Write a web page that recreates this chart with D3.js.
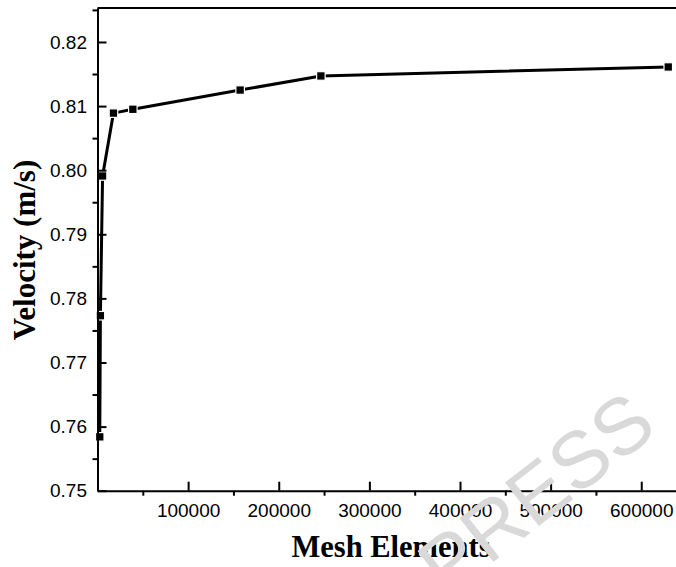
<!DOCTYPE html>
<html>
<head>
<meta charset="utf-8">
<script src="https://cdn.jsdelivr.net/npm/d3@7/dist/d3.min.js"></script>
<style>
  html, body { margin: 0; padding: 0; background: #fff; }
  svg { display: block; }
</style>
</head>
<body>
<svg id="chart" width="676" height="567"></svg>
<script>
// Mesh independence study: velocity vs number of mesh elements
const meshElements = [2500, 3200, 5600, 17600, 39000, 157400, 246500, 629800];
const velocity     = [0.7584, 0.7773, 0.7991, 0.8089, 0.8095, 0.8125, 0.8147, 0.8161];

const xMajorTicks = [0, 100000, 200000, 300000, 400000, 500000, 600000];
const xMinorTicks = [50000, 150000, 250000, 350000, 450000, 550000, 650000];
const yMajorTicks = [0.75, 0.76, 0.77, 0.78, 0.79, 0.80, 0.81, 0.82];
const yMinorTicks = [0.755, 0.765, 0.775, 0.785, 0.795, 0.805, 0.815, 0.825];

const xDomain = [0, 640000];
const yDomain = [0.75, 0.8253];

const svg = d3.select("#chart");
const plot = { left: 97.5, bottom: 490.7, top: 8, right: 677.5 };

const x = d3.scaleLinear().domain(xDomain).range([plot.left, plot.right]);
const y = d3.scaleLinear().domain(yDomain).range([plot.bottom, plot.top]);

const tickFont = "Arial, 'Liberation Sans', sans-serif";
const titleFont = "'Times New Roman', 'Liberation Serif', serif";

const points = meshElements.map((m, i) => [m, velocity[i]]);

// data line
svg.append("path")
  .datum(points)
  .attr("fill", "none")
  .attr("stroke", "#000")
  .attr("stroke-width", 3)
  .attr("stroke-linejoin", "round")
  .attr("d", d3.line().x(d => x(d[0])).y(d => y(d[1])));

// square markers
const ms = 8.5;
svg.append("g").selectAll("rect")
  .data(points)
  .join("rect")
  .attr("x", d => x(d[0]) - ms / 2)
  .attr("y", d => y(d[1]) - ms / 2)
  .attr("width", ms)
  .attr("height", ms)
  .attr("fill", "#000")
  .attr("stroke", "#fff")
  .attr("stroke-width", 1.2);

// top frame line
svg.append("line")
  .attr("x1", plot.left).attr("x2", 676)
  .attr("y1", plot.top).attr("y2", plot.top)
  .attr("stroke", "#000").attr("stroke-width", 2);

function styleAxis(g) {
  g.select(".domain").attr("stroke-width", 2);
  g.selectAll(".tick line").attr("stroke-width", 2);
}

// x axis: major ticks inward with labels, minor ticks outward
const xMajor = svg.append("g")
  .attr("transform", `translate(0,${plot.bottom})`)
  .call(d3.axisBottom(x).tickValues(xMajorTicks).tickSize(-9).tickSizeOuter(0)
    .tickFormat(d => d === 0 ? "" : d3.format("d")(d)));
styleAxis(xMajor);
xMajor.selectAll("text")
  .attr("font-family", tickFont).attr("font-size", 19).attr("fill", "#000")
  .attr("y", 12.5).attr("dy", "0.71em");

const xMinor = svg.append("g")
  .attr("transform", `translate(0,${plot.bottom})`)
  .call(d3.axisBottom(x).tickValues(xMinorTicks).tickSize(5).tickSizeOuter(0).tickFormat(""));
styleAxis(xMinor);
xMinor.select(".domain").remove();

// y axis: major ticks inward with labels, minor ticks outward
const yMajor = svg.append("g")
  .attr("transform", `translate(${plot.left},0)`)
  .call(d3.axisLeft(y).tickValues(yMajorTicks).tickSize(-9).tickSizeOuter(0)
    .tickFormat(d3.format(".2f")));
styleAxis(yMajor);
yMajor.selectAll("text")
  .attr("font-family", tickFont).attr("font-size", 19).attr("fill", "#000")
  .attr("x", -10.5);

const yMinor = svg.append("g")
  .attr("transform", `translate(${plot.left},0)`)
  .call(d3.axisLeft(y).tickValues(yMinorTicks).tickSize(5).tickSizeOuter(0).tickFormat(""));
styleAxis(yMinor);
yMinor.select(".domain").remove();

// axis titles
svg.append("text")
  .attr("x", 391).attr("y", 557)
  .attr("text-anchor", "middle")
  .attr("font-family", titleFont).attr("font-weight", "bold").attr("font-size", 30.5)
  .attr("fill", "#000")
  .text("Mesh Elements");

svg.append("text")
  .attr("transform", "translate(35,250) rotate(-90)")
  .attr("text-anchor", "middle")
  .attr("font-family", titleFont).attr("font-weight", "bold").attr("font-size", 31)
  .attr("fill", "#000")
  .text("Velocity (m/s)");

// watermark stamp
svg.append("text")
  .attr("transform", "translate(553,515) rotate(-38)")
  .attr("text-anchor", "middle")
  .attr("font-family", tickFont).attr("font-size", 80)
  .attr("fill", "#d9d9d9")
  .text("PRESS");
</script>
</body>
</html>
